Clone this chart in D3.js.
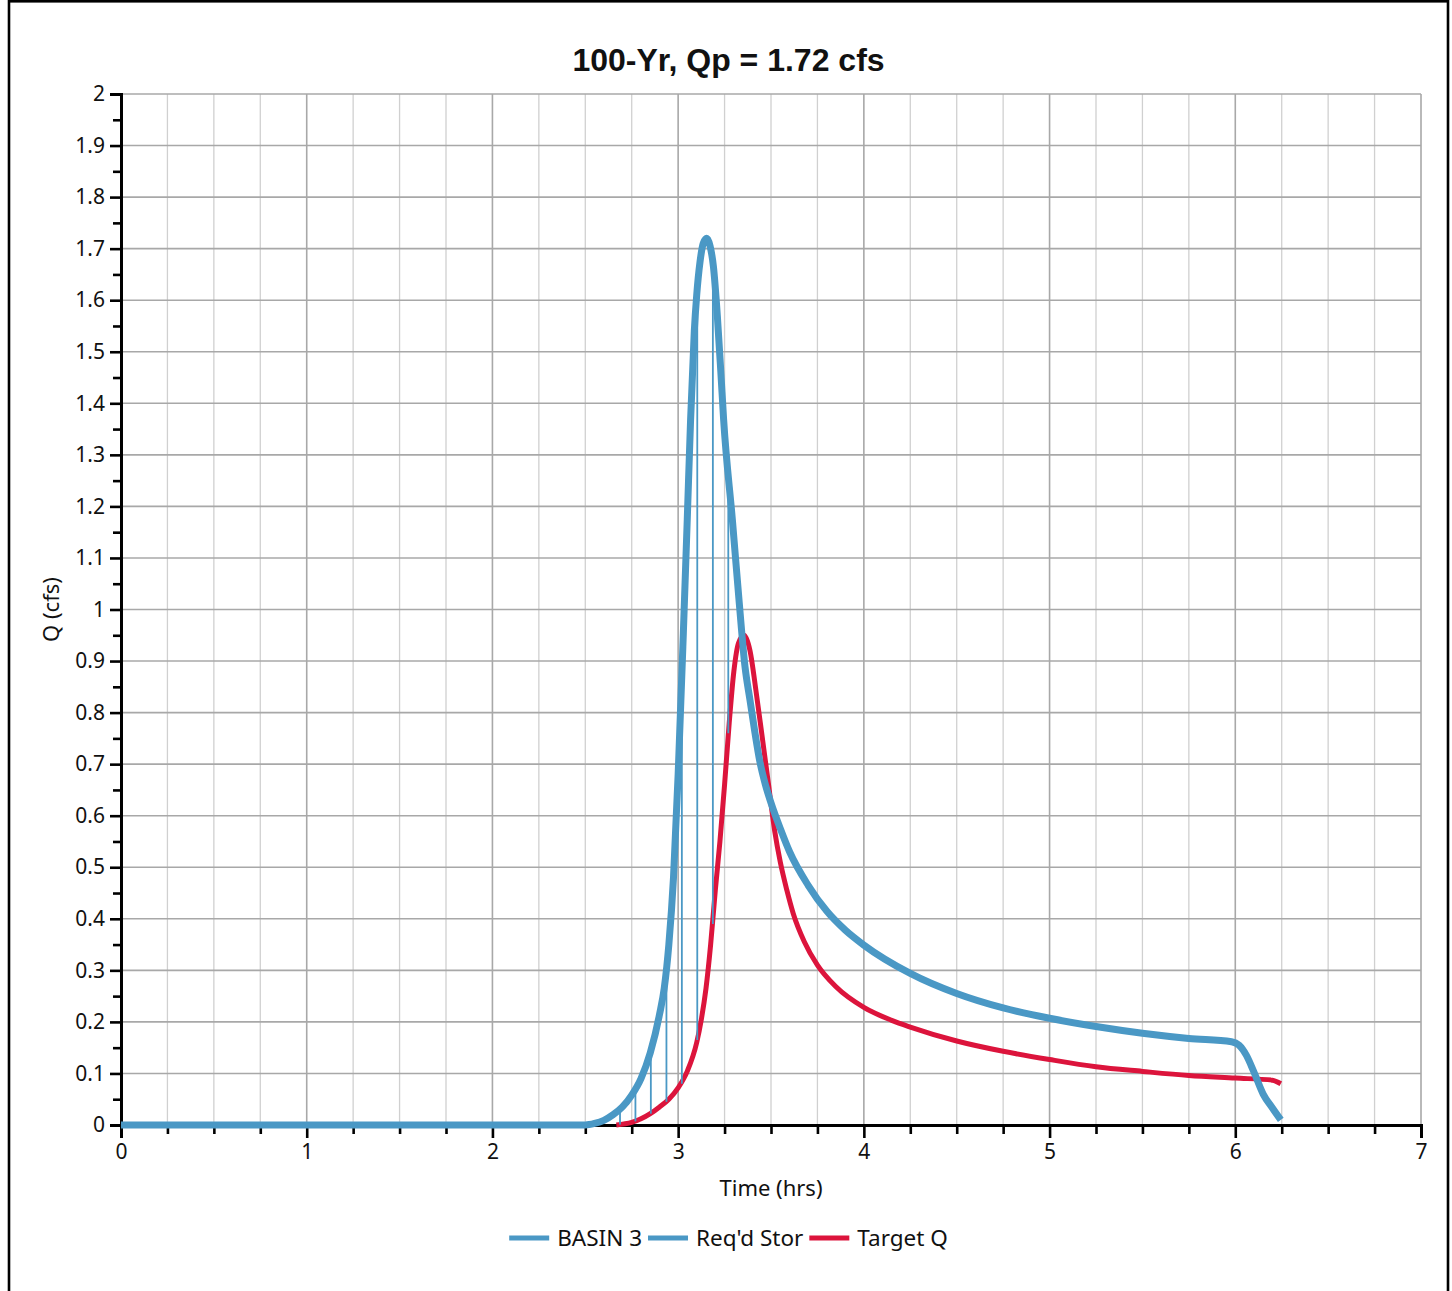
<!DOCTYPE html>
<html>
<head>
<meta charset="utf-8">
<script src="https://cdn.jsdelivr.net/npm/d3@7"></script>
<style>
  html, body { margin: 0; padding: 0; background: #fff; }
  svg { display: block; }
</style>
</head>
<body>
<svg id="chart" width="1452" height="1291"></svg>
<script>
// ---------------- DATA ----------------
const chartTitle = "100-Yr, Qp = 1.72 cfs";
const xLabel = "Time (hrs)";
const yLabel = "Q (cfs)";
const seriesNames = ["BASIN 3", "Req'd Stor", "Target Q"];

const xTickValues = [0, 1, 2, 3, 4, 5, 6, 7];
const xTickLabels = ["0", "1", "2", "3", "4", "5", "6", "7"];
const yTickValues = [0, 0.1, 0.2, 0.3, 0.4, 0.5, 0.6, 0.7, 0.8, 0.9, 1, 1.1, 1.2, 1.3, 1.4, 1.5, 1.6, 1.7, 1.8, 1.9, 2];
const yTickLabels = ["0", "0.1", "0.2", "0.3", "0.4", "0.5", "0.6", "0.7", "0.8", "0.9", "1", "1.1", "1.2", "1.3", "1.4", "1.5", "1.6", "1.7", "1.8", "1.9", "2"];

// BASIN 3 inflow hydrograph (hrs, cfs)
const basinTime = [0, 0.5, 1, 1.5, 2, 2.5, 2.55, 2.6, 2.65, 2.7, 2.75, 2.8, 2.85, 2.9, 2.925, 2.95, 2.975, 3.0, 3.028, 3.049, 3.067, 3.087, 3.1, 3.118, 3.135, 3.154, 3.172, 3.19, 3.211, 3.23, 3.245, 3.292, 3.329, 3.36, 3.387, 3.414, 3.44, 3.47, 3.5, 3.55, 3.6, 3.7, 3.8, 3.9, 4.0, 4.25, 4.5, 4.75, 5.0, 5.25, 5.5, 5.75, 5.98, 6.02, 6.06, 6.1, 6.15, 6.2, 6.245];
const basinQ    = [0, 0, 0, 0, 0, 0, 0.003, 0.009, 0.02, 0.035, 0.058, 0.09, 0.14, 0.215, 0.265, 0.35, 0.48, 0.68, 0.954, 1.174, 1.368, 1.54, 1.61, 1.675, 1.71, 1.72, 1.705, 1.665, 1.57, 1.46, 1.368, 1.174, 1.013, 0.889, 0.824, 0.76, 0.705, 0.66, 0.625, 0.575, 0.53, 0.465, 0.415, 0.378, 0.349, 0.294, 0.255, 0.227, 0.207, 0.191, 0.178, 0.168, 0.1616, 0.155, 0.135, 0.103, 0.06, 0.033, 0.01];

// Target Q outflow hydrograph (hrs, cfs)
const targetTime = [2.667, 2.75, 2.8, 2.85, 2.9, 2.95, 3.0, 3.05, 3.1, 3.125, 3.15, 3.175, 3.2, 3.225, 3.25, 3.275, 3.3, 3.325, 3.355, 3.387, 3.42, 3.45, 3.485, 3.52, 3.55, 3.585, 3.62, 3.68, 3.75, 3.85, 4.0, 4.15, 4.25, 4.5, 4.75, 5.0, 5.25, 5.5, 5.75, 6.0, 6.2, 6.245];
const targetQ    = [0, 0.005, 0.012, 0.022, 0.035, 0.05, 0.072, 0.105, 0.16, 0.205, 0.265, 0.35, 0.455, 0.55, 0.66, 0.78, 0.88, 0.935, 0.95, 0.92, 0.84, 0.76, 0.665, 0.57, 0.51, 0.456, 0.41, 0.355, 0.31, 0.268, 0.228, 0.203, 0.19, 0.163, 0.143, 0.127, 0.113, 0.104, 0.096, 0.091, 0.087, 0.08];

// Req'd Stor vertical bars (hrs, top cfs, bottom cfs)
const storTime   = [2.687, 2.77, 2.853, 2.937, 3.02, 3.103, 3.187, 3.27];
const storTop    = [0.028, 0.068, 0.143, 0.30, 0.88, 1.62, 1.67, 1.26];
const storBottom = [0.001, 0.007, 0.022, 0.045, 0.08, 0.165, 0.39, 0.76];

// ---------------- LAYOUT ----------------
const svg = d3.select("#chart");
const plot = { left: 121, right: 1421, top: 94, bottom: 1125 };
const blue = "#4a98c5";
const red = "#dc143c";
const tickFont = "'Noto Sans', 'Open Sans', sans-serif";

const x = d3.scaleLinear().domain([0, 7]).range([plot.left, plot.right]);
const y = d3.scaleLinear().domain([0, 2]).range([plot.bottom, plot.top]);

// frame
svg.append("rect")
  .attr("x", 9).attr("y", 1.3).attr("width", 1439).attr("height", 1320)
  .attr("fill", "none").attr("stroke", "#000").attr("stroke-width", 2.6);

// grid: minor vertical every 0.25
const gridG = svg.append("g");
const minorX = d3.range(0, 28).map(i => i * 0.25).filter(v => v % 1 !== 0);
gridG.selectAll(".vminor").data(minorX).join("line")
  .attr("x1", d => x(d)).attr("x2", d => x(d))
  .attr("y1", plot.top).attr("y2", plot.bottom)
  .attr("stroke", "#d0d0d0").attr("stroke-width", 1.3);
gridG.selectAll(".vmajor").data(xTickValues.slice(1)).join("line")
  .attr("x1", d => x(d)).attr("x2", d => x(d))
  .attr("y1", plot.top).attr("y2", plot.bottom)
  .attr("stroke", "#a8a8a8").attr("stroke-width", 1.6);
gridG.selectAll(".hmajor").data(yTickValues.slice(1)).join("line")
  .attr("x1", plot.left).attr("x2", plot.right)
  .attr("y1", d => y(d)).attr("y2", d => y(d))
  .attr("stroke", "#a8a8a8").attr("stroke-width", 1.6);

// axes
const xAxisMinor = d3.axisBottom(x).tickValues(minorX).tickSize(9).tickFormat("");
const xAxis = d3.axisBottom(x).tickValues(xTickValues).tickSize(13)
  .tickFormat((d, i) => xTickLabels[i]).tickPadding(6);
const yMinor = d3.range(0, 20).map(i => i * 0.1 + 0.05);
const yAxisMinor = d3.axisLeft(y).tickValues(yMinor).tickSize(8).tickFormat("");
const yAxis = d3.axisLeft(y).tickValues(yTickValues).tickSize(11)
  .tickFormat((d, i) => yTickLabels[i]).tickPadding(5);

function styleAxis(g) {
  g.select(".domain").attr("stroke", "#000").attr("stroke-width", 3);
  g.selectAll(".tick line").attr("stroke", "#000").attr("stroke-width", 2.6);
  g.selectAll(".tick text").attr("fill", "#111").style("font-family", tickFont).style("font-size", "21px");
}
svg.append("g").attr("transform", `translate(0,${plot.bottom})`).call(xAxisMinor).call(styleAxis);
svg.append("g").attr("transform", `translate(0,${plot.bottom})`).call(xAxis).call(styleAxis);
svg.append("g").attr("transform", `translate(${plot.left},0)`).call(yAxisMinor).call(styleAxis);
svg.append("g").attr("transform", `translate(${plot.left},0)`).call(yAxis).call(styleAxis);

// series
const line = d3.line().x(d => x(d[0])).y(d => y(d[1])).curve(d3.curveMonotoneX);
const targetData = targetTime.map((t, i) => [t, targetQ[i]]);
const basinData = basinTime.map((t, i) => [t, basinQ[i]]);

svg.append("path").datum(targetData).attr("d", line)
  .attr("fill", "none").attr("stroke", red).attr("stroke-width", 5);

svg.append("g").selectAll("line").data(storTime).join("line")
  .attr("x1", d => x(d)).attr("x2", d => x(d))
  .attr("y1", (d, i) => y(storBottom[i])).attr("y2", (d, i) => y(storTop[i]))
  .attr("stroke", blue).attr("stroke-width", 1.8);

svg.append("path").datum(basinData).attr("d", line)
  .attr("fill", "none").attr("stroke", blue).attr("stroke-width", 7)
  .attr("stroke-linejoin", "round");

// title & axis labels
svg.append("text").attr("x", 728.5).attr("y", 71).attr("text-anchor", "middle")
  .style("font-family", "'Liberation Sans', Arial, sans-serif").style("font-weight", "bold")
  .style("font-size", "32px").attr("fill", "#111").text(chartTitle);

svg.append("text").attr("x", (plot.left + plot.right) / 2).attr("y", 1196).attr("text-anchor", "middle")
  .style("font-family", tickFont).style("font-size", "22px").attr("fill", "#111").text(xLabel);

svg.append("text").attr("transform", `translate(59,${(plot.top + plot.bottom) / 2}) rotate(-90)`)
  .attr("text-anchor", "middle")
  .style("font-family", tickFont).style("font-size", "22px").attr("fill", "#111").text(yLabel);

// legend
const legendColors = [blue, blue, red];
const lg = svg.append("g");
let cx = 0;
seriesNames.forEach((name, i) => {
  const g = lg.append("g");
  g.append("line").attr("x1", 0).attr("x2", 40).attr("y1", 0).attr("y2", 0)
    .attr("stroke", legendColors[i]).attr("stroke-width", 5);
  const t = g.append("text").attr("x", 48).attr("y", 8)
    .style("font-family", tickFont).style("font-size", "22.5px").attr("fill", "#111").text(name);
  const w = 48 + t.node().getComputedTextLength();
  g.attr("transform", `translate(${cx},0)`);
  cx += w + 6;
});
const totalW = cx - 6;
lg.attr("transform", `translate(${728.5 - totalW / 2},1238)`);
</script>
</body>
</html>
